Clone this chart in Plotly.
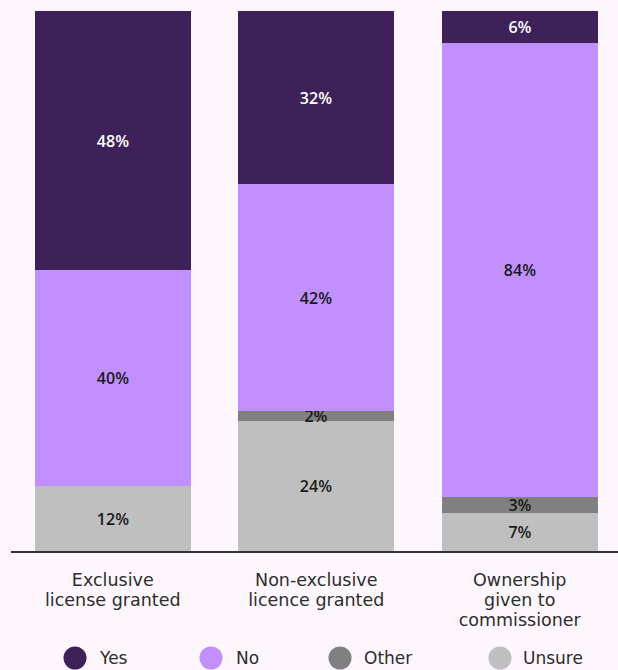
import plotly.graph_objects as go

# Survey answers by type of rights arrangement (percent of respondents)
categories = [["Exclusive", "license granted"],
              ["Non-exclusive", "licence granted"],
              ["Ownership", "given to", "commissioner"]]
series_names = ["Yes", "No", "Other", "Unsure"]
yes_vals = [48, 32, 6]
no_vals = [40, 42, 84]
other_vals = [0, 2, 3]
unsure_vals = [12, 24, 7]

colors = {"Yes": "#3f2159", "No": "#c190fe", "Other": "#808080", "Unsure": "#bfbfbf"}
text_colors = {"Yes": "#ffffff", "No": "#1a1a1a", "Other": "#1a1a1a", "Unsure": "#1a1a1a"}
bg = "#fdf6fd"
font_family = "DejaVu Sans"
label_family = "Open Sans"

W, H = 618, 670
L, R, T, B = 11, 0, 11, 119

values = {"Yes": yes_vals, "No": no_vals, "Other": other_vals, "Unsure": unsure_vals}
xs = [0, 1, 2]

fig = go.Figure()
# stack from the bottom: Unsure, Other, No, Yes
for name in ["Unsure", "Other", "No", "Yes"]:
    vals = values[name]
    fig.add_trace(go.Bar(
        x=xs, y=vals, name=name,
        marker=dict(color=colors[name], line=dict(width=0)),
        width=0.767,
        text=[f"{v}%" if v > 0 else "" for v in vals],
        textposition="inside",
        insidetextanchor="middle",
        textangle=0,
        textfont=dict(color=text_colors[name], size=16, family=label_family, weight=600),
        showlegend=False,
        hoverinfo="skip",
    ))

# tight line spacing: small base size, larger glyphs per line
tick_text = ["<br>".join(f'<span style="font-size:17.5px">{ln}</span>' for ln in lines)
             for lines in categories]

plot_w = W - L - R
plot_h = H - T - B
pitch = 203.5
fig.update_layout(
    width=W, height=H,
    barmode="stack",
    bargap=0,
    paper_bgcolor=bg, plot_bgcolor=bg,
    margin=dict(l=L, r=R, t=T, b=B, pad=0),
    uniformtext=dict(minsize=16, mode="show"),
    xaxis=dict(
        range=[-0.5, -0.5 + plot_w / pitch],
        tickvals=xs, ticktext=tick_text,
        ticks="", showgrid=False, zeroline=False,
        showline=True, linecolor="#333333", linewidth=2,
        tickfont=dict(size=15.5, color="#2d2d2d", family=font_family),
        ticklabelstandoff=14,
        fixedrange=True,
    ),
    yaxis=dict(range=[0, 100], visible=False, fixedrange=True),
)

# Legend drawn as circles with labels beneath the plot
legend_cx = [75, 211, 340, 500]
legend_tx = [97, 234, 362, 521]
legend_cy = 658
def px_x(px):
    return (px - L) / plot_w
def px_y(py):
    return (H - B - py) / plot_h

for name, cx, tx in zip(series_names, legend_cx, legend_tx):
    fig.add_shape(type="circle", xref="paper", yref="paper",
                  xsizemode="pixel", ysizemode="pixel",
                  xanchor=px_x(cx), yanchor=px_y(legend_cy),
                  x0=-11.5, x1=11.5, y0=-11.5, y1=11.5,
                  fillcolor=colors[name], line=dict(width=0))
    fig.add_annotation(x=px_x(tx), y=px_y(legend_cy), xref="paper", yref="paper",
                       text=name, showarrow=False, xanchor="left", yanchor="middle",
                       font=dict(size=17, color="#2d2d2d", family=font_family))

fig.write_html("out.html")
